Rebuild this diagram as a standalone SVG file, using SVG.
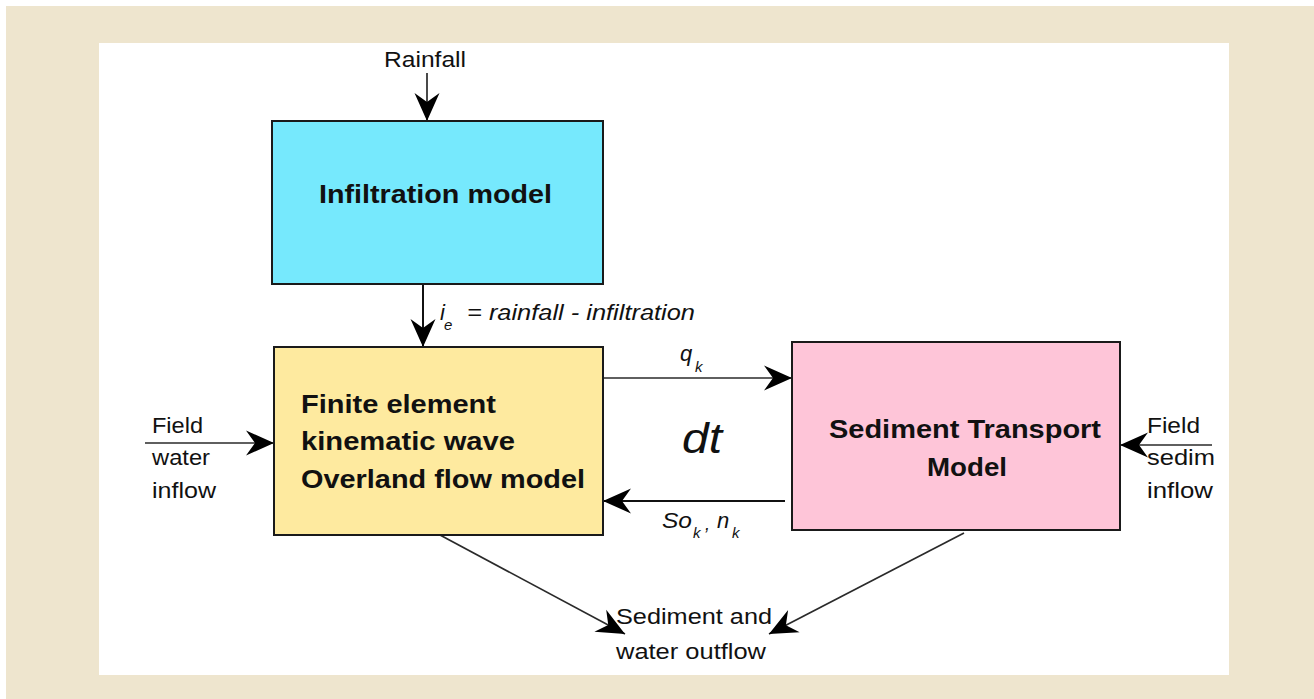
<svg xmlns="http://www.w3.org/2000/svg" width="1314" height="699" viewBox="0 0 1314 699">
<style>
  .box { stroke: #1a1a1a; stroke-width: 2; }
  .bt { font-family: "Liberation Sans", Arial, sans-serif; font-weight: bold; font-size: 26px; fill: #111; }
  .lt { font-family: "Liberation Sans", Arial, sans-serif; font-size: 22px; fill: #111; }
  .it { font-family: "Liberation Sans", Arial, sans-serif; font-style: italic; fill: #111; }
  .ln { fill: none; stroke: #111; stroke-width: 2; }
  .lg { fill: none; stroke: #2a2a2a; stroke-width: 1.7; }
</style>
<defs>
  <marker id="ah" viewBox="-30 -15 32 30" refX="0" refY="0" markerWidth="32" markerHeight="30" markerUnits="userSpaceOnUse" orient="auto">
    <path d="M0,0 L-28,-12.5 L-19,0 L-28,12.5 Z" fill="#000"/>
  </marker>
</defs>
<rect x="0" y="0" width="1314" height="699" fill="#ffffff"/>
<rect x="6" y="6" width="1308" height="693" fill="#EEE5CE"/>
<rect x="99" y="43" width="1130" height="632" fill="#ffffff"/>

<g id="connectors">
  <line class="lg" x1="427" y1="73" x2="427" y2="121" marker-end="url(#ah)"/>
  <line class="ln" x1="423" y1="284" x2="423" y2="347" marker-end="url(#ah)"/>
  <line class="lg" x1="603" y1="378" x2="792" y2="378" marker-end="url(#ah)"/>
  <line class="ln" x1="785" y1="501" x2="603" y2="501" marker-end="url(#ah)"/>
  <line class="lg" x1="145" y1="443" x2="274" y2="443" marker-end="url(#ah)"/>
  <line class="lg" x1="1212" y1="445" x2="1120" y2="445" marker-end="url(#ah)"/>
  <line class="lg" x1="440" y1="535" x2="625" y2="634" marker-end="url(#ah)"/>
  <line class="lg" x1="964" y1="533" x2="769" y2="634" marker-end="url(#ah)"/>
</g>

<g id="infiltration">
  <rect class="box" x="272" y="121" width="331" height="163" fill="#76E9FD"/>
  <text class="bt" x="319" y="203" textLength="233" lengthAdjust="spacingAndGlyphs">Infiltration model</text>
</g>

<g id="overland">
  <rect class="box" x="274" y="347" width="329" height="188" fill="#FEEA9F"/>
  <text class="bt" x="301" y="413" textLength="195" lengthAdjust="spacingAndGlyphs">Finite element</text>
  <text class="bt" x="301" y="450" textLength="214" lengthAdjust="spacingAndGlyphs">kinematic wave</text>
  <text class="bt" x="301" y="488" textLength="284" lengthAdjust="spacingAndGlyphs">Overland flow model</text>
</g>

<g id="sediment">
  <rect class="box" x="792" y="342" width="328" height="188" fill="#FEC5D8"/>
  <text class="bt" x="829" y="438" textLength="272" lengthAdjust="spacingAndGlyphs">Sediment Transport</text>
  <text class="bt" x="927" y="476" textLength="80" lengthAdjust="spacingAndGlyphs">Model</text>
</g>

<g id="labels">
  <text class="lt" x="384" y="67" textLength="82" lengthAdjust="spacingAndGlyphs">Rainfall</text>

  <text class="it" x="440" y="320" font-size="22">i</text>
  <text class="it" x="444" y="330" font-size="15">e</text>
  <text class="it" x="467" y="320" font-size="22" textLength="228" lengthAdjust="spacingAndGlyphs">= rainfall - infiltration</text>

  <text class="it" x="680" y="361" font-size="22">q</text>
  <text class="it" x="695" y="372" font-size="15">k</text>

  <text class="it" x="682" y="453" font-size="42" textLength="40" lengthAdjust="spacingAndGlyphs">dt</text>

  <text class="it" x="662" y="528" font-size="22" textLength="30" lengthAdjust="spacingAndGlyphs">So</text>
  <text class="it" x="693" y="538" font-size="15">k</text>
  <text class="it" x="705" y="530" font-size="18">,</text>
  <text class="it" x="717" y="528" font-size="22">n</text>
  <text class="it" x="732" y="538" font-size="15">k</text>

  <text class="lt" x="152" y="433" textLength="51" lengthAdjust="spacingAndGlyphs">Field</text>
  <text class="lt" x="152" y="465" textLength="58" lengthAdjust="spacingAndGlyphs">water</text>
  <text class="lt" x="152" y="498" textLength="64" lengthAdjust="spacingAndGlyphs">inflow</text>

  <text class="lt" x="1147" y="433" textLength="53" lengthAdjust="spacingAndGlyphs">Field</text>
  <text class="lt" x="1147" y="465" textLength="68" lengthAdjust="spacingAndGlyphs">sedim</text>
  <text class="lt" x="1147" y="498" textLength="66" lengthAdjust="spacingAndGlyphs">inflow</text>

  <text class="lt" x="616" y="624" textLength="156" lengthAdjust="spacingAndGlyphs">Sediment and</text>
  <text class="lt" x="616" y="659" textLength="150" lengthAdjust="spacingAndGlyphs">water outflow</text>
</g>
</svg>
